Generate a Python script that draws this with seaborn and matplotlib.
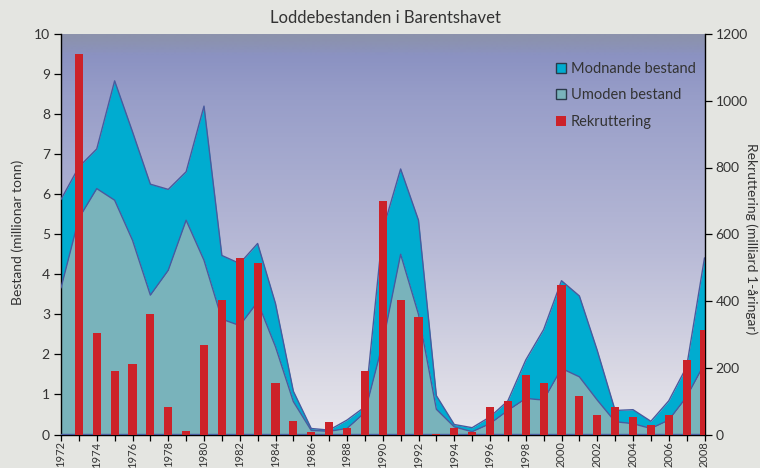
import numpy as np
import pandas as pd
import matplotlib
matplotlib.use("Agg")
import matplotlib.pyplot as plt
import seaborn as sns
from matplotlib.colors import LinearSegmentedColormap
from matplotlib.patches import Patch
from matplotlib.ticker import MultipleLocator

# ---- data ----
years = list(range(1972, 2009))
# top of the teal area: immature stock (million tonnes)
umoden = [3.66, 5.40, 6.14, 5.85, 4.85, 3.48, 4.10, 5.35, 4.35, 2.88,
          2.72, 3.31, 2.19, 0.82, 0.10, 0.08, 0.15, 0.55, 2.28, 4.50,
          3.00, 0.63, 0.19, 0.07, 0.27, 0.60, 0.90, 0.86, 1.65, 1.44,
          0.86, 0.32, 0.27, 0.15, 0.36, 0.94, 1.77]
# top of the cyan area: total stock (umoden + modnande, million tonnes)
totalt = [5.87, 6.68, 7.13, 8.83, 7.56, 6.25, 6.12, 6.56, 8.20, 4.47,
          4.27, 4.77, 3.27, 1.08, 0.15, 0.11, 0.36, 0.69, 5.10, 6.63,
          5.35, 0.97, 0.25, 0.17, 0.44, 0.84, 1.86, 2.62, 3.84, 3.46,
          2.10, 0.60, 0.62, 0.33, 0.84, 1.69, 4.41]
# recruitment (billion 1-year-olds)
rekruttering = [0, 1140, 304, 190, 212, 361, 82, 10, 268, 403,
                528, 514, 154, 40, 7, 37, 19, 190, 700, 403,
                352, 2, 20, 8, 82, 100, 178, 154, 448, 115,
                58, 82, 52, 28, 58, 223, 313]

left_ticks = list(range(0, 11))
right_ticks = list(range(0, 1201, 200))

title = "Loddebestanden i Barentshavet"
ylabel_left = "Bestand (millionar tonn)"
ylabel_right = "Rekruttering (milliard 1-åringar)"
legend_labels = ["Modnande bestand", "Umoden bestand", "Rekruttering"]

# ---- styling ----
c_mod = "#00acd0"
c_umo = "#79b3bb"
c_edge = "#4a5a9e"
c_red = "#cc2229"
c_text = "#333333"

sns.set_theme(style="ticks")
plt.rcParams['font.family'] = ['Lato', 'DejaVu Sans']

W, H = 760, 468
fig = plt.figure(figsize=(W / 100, H / 100), dpi=100)
fig.patch.set_facecolor("#e4e5e1")

x0, x1, ytop, ybot = 61, 704.5, 34, 434.5
ax = fig.add_axes([x0 / W, 1 - ybot / H, (x1 - x0) / W, (ybot - ytop) / H])

# background gradient
cmap = LinearSegmentedColormap.from_list(
    "bg", [(0.0, "#e7e6ec"), (0.12, "#dddce6"), (0.45, "#b9bbd7"),
           (0.85, "#979dc8"), (0.95, "#8b92c2"), (0.975, "#8b92b4"),
           (1.0, "#8c92ac")])
grad = np.linspace(0, 1, 400).reshape(-1, 1)
ax.imshow(grad, extent=[years[0], years[-1], 0, 10], origin="lower",
          aspect="auto", cmap=cmap, zorder=0, interpolation="bilinear")

ax.fill_between(years, umoden, totalt, color=c_mod, lw=0, zorder=2)
ax.fill_between(years, 0, umoden, color=c_umo, lw=0, zorder=2)
sns.lineplot(x=years, y=totalt, color=c_edge, lw=1.0, ax=ax, zorder=3)
sns.lineplot(x=years, y=umoden, color=c_edge, lw=1.0, ax=ax, zorder=3)
ax.plot([years[0], years[-1]], [0.02, 0.02], color=c_edge, lw=1.0, zorder=3)

ax.set_xlim(years[0], years[-1])
ax.set_ylim(0, 10)
ax.set_yticks(left_ticks)

ax2 = ax.twinx()
df = pd.DataFrame({"year": years, "rekruttering": rekruttering})
sns.barplot(data=df, x="year", y="rekruttering", native_scale=True,
            width=0.45, color=c_red, saturation=1, linewidth=0,
            ax=ax2, zorder=4)
ax2.set_xlim(years[0], years[-1])
ax2.set_ylim(0, 1200)
ax2.set_yticks(right_ticks)
ax2.set_xlabel("")
ax2.set_ylabel("")
ax.set_xlabel("")
ax.set_ylabel("")

ax.xaxis.set_major_locator(MultipleLocator(2))
ax.xaxis.set_minor_locator(MultipleLocator(1))
ax.xaxis.set_major_formatter(matplotlib.ticker.FormatStrFormatter("%d"))

for a in (ax, ax2):
    for s in a.spines.values():
        s.set_visible(False)
ax.spines["left"].set_visible(True)
ax.spines["bottom"].set_visible(True)
ax2.spines["right"].set_visible(True)
for s in (ax.spines["left"], ax.spines["bottom"], ax2.spines["right"]):
    s.set_color("black")
    s.set_linewidth(1.0)

ax.tick_params(axis="both", which="both", direction="out", length=5,
               width=0.9, color="black", labelsize=10, labelcolor=c_text,
               pad=3)
ax.tick_params(axis="x", which="both", length=4)
ax.tick_params(axis="x", which="major", labelrotation=90, labelsize=8,
               pad=1)
ax2.tick_params(axis="y", direction="out", length=5, width=0.9,
                color="black", labelsize=10, labelcolor=c_text, pad=3)

fig.text(385 / W, 1 - 18 / H, title, ha="center", va="center",
         fontsize=12, color=c_text)
fig.text(18 / W, 1 - 232 / H, ylabel_left, rotation=90, ha="center",
         va="center", fontsize=10, color=c_text)
fig.text(751 / W, 1 - 239 / H, ylabel_right, rotation=-90, ha="center",
         va="center", fontsize=10, color=c_text)

handles = [Patch(facecolor=c_mod, edgecolor="#2a3a4a", linewidth=1.0),
           Patch(facecolor=c_umo, edgecolor="#2a3a4a", linewidth=1.0),
           Patch(facecolor=c_red, edgecolor="none")]
ax2.legend(handles, legend_labels, loc="upper left",
           bbox_to_anchor=(556 / W, 1 - 62 / H),
           bbox_transform=fig.transFigure, frameon=False,
           fontsize=10.5, handlelength=0.7, handleheight=0.7,
           handletextpad=0.3, labelspacing=0.85, borderpad=0,
           borderaxespad=0, labelcolor=c_text)

fig.savefig("out.png", dpi=100, facecolor=fig.get_facecolor())
